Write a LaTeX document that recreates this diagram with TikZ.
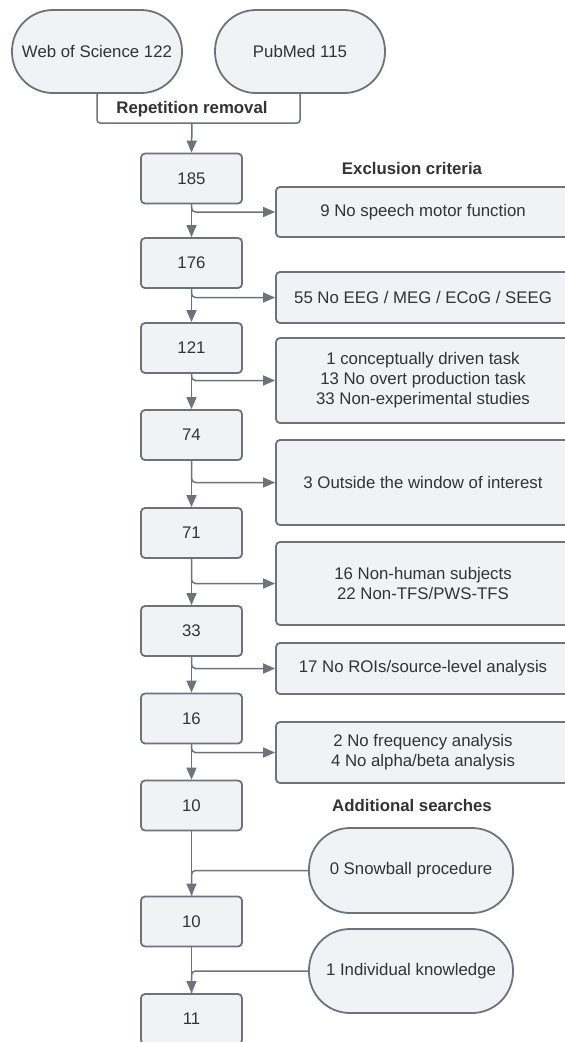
\documentclass[tikz,border=0pt]{standalone}
\usepackage{fontspec}
\setmainfont{Liberation Sans}
\usetikzlibrary{arrows.meta}
\definecolor{strk}{HTML}{6F727A}
\definecolor{fil}{HTML}{F0F2F6}
\definecolor{txt}{HTML}{333333}
\begin{document}
\begin{tikzpicture}[x=1pt,y=-1pt,
  every node/.style={text=txt, font=\fontsize{16.8}{20}\selectfont},
  numbox/.style={draw=strk, fill=fil, line width=1.8pt, rounded corners=4pt, minimum width=101pt, minimum height=50pt, inner sep=0pt},
  exbox/.style={draw=strk, fill=fil, line width=1.8pt, rounded corners=4pt, minimum width=294pt, align=center, inner sep=0pt},
  pill/.style={draw=strk, fill=fil, line width=1.8pt, rounded corners=41pt, inner sep=0pt},
  conn/.style={draw=strk, line width=1.5pt},
  arr/.style={conn, -{Triangle[length=12pt,width=10pt]}},
  title/.style={font=\bfseries\fontsize{16.8}{20}\selectfont}]
\useasboundingbox[fill=white] (0,0) rectangle (565,1042);

% sources
\node[pill, minimum width=170pt, minimum height=83pt] (wos) at (97,51.5) {Web of Science 122};
\node[pill, minimum width=170pt, minimum height=83pt] (pub) at (300,51.5) {PubMed 115};
\coordinate (brk) at (192,123);
\draw[conn, rounded corners=3pt] (wos.south) -- (wos.south |- brk) -- (pub.south |- brk) -- (pub.south);
\node[title] (rep) at (192,109) {Repetition removal};

% left column
\node[numbox] (n185) at (191.5,178.5) {185};
\node[numbox] (n176) at (191.5,263) {176};
\node[numbox] (n121) at (191.5,348) {121};
\node[numbox] (n74) at (191.5,435) {74};
\node[numbox] (n71) at (191.5,533) {71};
\node[numbox] (n33) at (191.5,631) {33};
\node[numbox] (n16) at (191.5,718.5) {16};
\node[numbox] (n10) at (191.5,805.5) {10};
\node[numbox] (n10b) at (191.5,921.5) {10};
\node[numbox] (n11) at (191.5,1019) {11};

% titles
\node[title] (extitle) at (412,168) {Exclusion criteria};
\node[title] (adtitle) at (412,805) {Additional searches};

% exclusion boxes
\node[exbox, minimum height=50pt] (e1) at (423,212) {9 No speech motor function};
\node[exbox, minimum height=51pt] (e2) at (423,297.5) {55 No EEG / MEG / ECoG / SEEG};
\node[exbox, minimum height=85pt] (e3) at (423,380.5) {1 conceptually driven task\\13 No overt production task\\33 Non-experimental studies};
\node[exbox, minimum height=85pt] (e4) at (423,482.5) {3 Outside the window of interest};
\node[exbox, minimum height=83pt] (e5) at (423,583.5) {16 Non-human subjects\\22 Non-TFS/PWS-TFS};
\node[exbox, minimum height=51pt] (e6) at (423,668.5) {17 No ROIs/source-level analysis};
\node[exbox, minimum height=61pt] (e7) at (423,752.5) {2 No frequency analysis\\4 No alpha/beta analysis};

% additional searches
\node[pill, minimum width=204pt, minimum height=85pt] (snow) at (411,870.5) {0 Snowball procedure};
\node[pill, minimum width=204pt, minimum height=84pt] (indiv) at (411,971) {1 Individual knowledge};

% main flow
\draw[arr] (brk) -- (n185.north);
\draw[arr] (n185.south) -- (n176.north);
\draw[arr] (n176.south) -- (n121.north);
\draw[arr] (n121.south) -- (n74.north);
\draw[arr] (n74.south) -- (n71.north);
\draw[arr] (n71.south) -- (n33.north);
\draw[arr] (n33.south) -- (n16.north);
\draw[arr] (n16.south) -- (n10.north);
\draw[arr] (n10.south) -- (n10b.north);
\draw[arr] (n10b.south) -- (n11.north);

% branches
\draw[arr, rounded corners=4pt] (n185.south) |- (e1.west);
\draw[arr, rounded corners=4pt] (n176.south) |- (e2.west);
\draw[arr, rounded corners=4pt] (n121.south) |- (e3.west);
\draw[arr, rounded corners=4pt] (n74.south) |- (e4.west);
\draw[arr, rounded corners=4pt] (n71.south) |- (e5.west);
\draw[arr, rounded corners=4pt] (n33.south) |- (e6.west);
\draw[arr, rounded corners=4pt] (n16.south) |- (e7.west);
\draw[conn, rounded corners=4pt] (snow.west) -| (n10b.north);
\draw[conn, rounded corners=4pt] (indiv.west) -| (n11.north);
\end{tikzpicture}
\end{document}
